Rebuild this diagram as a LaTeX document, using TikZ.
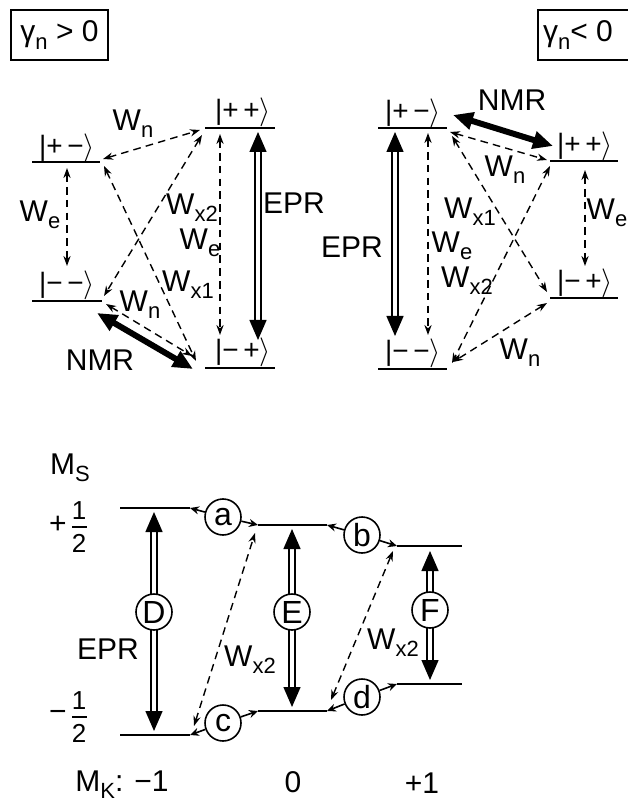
\documentclass[tikz,border=0pt]{standalone}
\usepackage{fontspec}
\setmainfont{Liberation Sans}
\usetikzlibrary{arrows.meta}
\newcommand\ssub[1]{\raisebox{-0.45ex}{\fontsize{11}{11}\selectfont #1}}
\newcommand\myket[1]{|#1$\rangle$}
\begin{document}
\begin{tikzpicture}[x=0.5pt,y=-0.5pt,
  font=\fontsize{15}{18}\selectfont,
  lev/.style={line width=1pt},
  dasharr/.style={line width=0.7pt, dash pattern=on 3.8pt off 2.6pt,
    {Stealth[length=5pt,width=3.6pt]}-{Stealth[length=5pt,width=3.6pt]}},
  nmrarr/.style={line width=3pt,
    {Triangle[length=10pt,width=8.5pt]}-{Triangle[length=10pt,width=8.5pt]}},
  eprarr/.style={line width=0.7pt, double distance=2.4pt,
    {Triangle[length=10pt,width=8.5pt]}-{Triangle[length=10pt,width=8.5pt]}},
  smallarr/.style={line width=0.8pt, -{Stealth[length=4.5pt,width=4pt]}},
  ketlbl/.style={inner sep=0pt, font=\fontsize{14}{16}\selectfont},
  lbl/.style={inner sep=0pt},
  circ/.style={circle, draw, line width=0.8pt, fill=white, minimum size=18pt,
    inner sep=0pt, font=\fontsize{16}{18}\selectfont},
  boxlbl/.style={draw, line width=0.8pt, minimum height=25pt}
]
\useasboundingbox (0,0) rectangle (627,801);

% ---------------- top-left panel (gamma_n > 0)
\node[boxlbl, minimum width=48.5pt] (boxL) at (59.5,35) {$\phantom{0}$};
\node[lbl] (boxLt) at (59.5,35) {γ\ssub{n} > 0};

\coordinate (PPl) at (205,128); \coordinate (PPr) at (275,128);
\coordinate (PMl) at (32,162);  \coordinate (PMr) at (100,162);
\coordinate (MMl) at (32,301);  \coordinate (MMr) at (102,301);
\coordinate (MPl) at (205,368); \coordinate (MPr) at (275,368);
\draw[lev] (PPl) -- (PPr);
\draw[lev] (PMl) -- (PMr);
\draw[lev] (MMl) -- (MMr);
\draw[lev] (MPl) -- (MPr);
\node[ketlbl] (kPP) at (243,112) {\myket{+\,+}};
\node[ketlbl] (kPM) at (67,148) {\myket{+\,−}};
\node[ketlbl] (kMM) at (67,285) {\myket{−\,−}};
\node[ketlbl] (kMP) at (243,352) {\myket{−\,+}};

\coordinate (tlA1) at (103,159); \coordinate (tlA2) at (200,130);
\draw[dasharr] (tlA1) -- (tlA2);
\node[lbl] (tlWn) at (133,124) {W\ssub{n}};

\coordinate (tlB1) at (202,135); \coordinate (tlB2) at (104,296);
\draw[dasharr] (tlB1) -- (tlB2);
\node[lbl] (tlWx2) at (192,208) {W\ssub{x2}};

\coordinate (tlC1) at (104,166); \coordinate (tlC2) at (196,361);
\draw[dasharr] (tlC1) -- (tlC2);
\node[lbl] (tlWx1) at (188,285) {W\ssub{x1}};

\coordinate (tlD1) at (67,168); \coordinate (tlD2) at (67,266);
\draw[dasharr] (tlD1) -- (tlD2);
\node[lbl] (tlWe) at (40,215) {W\ssub{e}};

\coordinate (tlE1) at (220,134); \coordinate (tlE2) at (220,335);
\draw[dasharr] (tlE1) -- (tlE2);
\node[lbl] (tlWe2) at (200,243) {W\ssub{e}};

\coordinate (tlF1) at (258,132); \coordinate (tlF2) at (258,340);
\draw[eprarr] (tlF1) -- (tlF2);
\node[lbl] (tlEPR) at (294,203) {EPR};

\coordinate (tlG1) at (106,304); \coordinate (tlG2) at (192,356);
\draw[dasharr] (tlG1) -- (tlG2);
\node[lbl] (tlWn2) at (140,305) {W\ssub{n}};

\coordinate (tlH1) at (97,313); \coordinate (tlH2) at (193,369);
\draw[nmrarr] (tlH1) -- (tlH2);
\node[lbl] (tlNMR) at (100,360) {NMR};

% ---------------- top-right panel (gamma_n < 0)
\node[boxlbl, minimum width=47pt] (boxR) at (585,35) {$\phantom{0}$};
\node[lbl] (boxRt) at (578,35) {γ\ssub{n}< 0};

\coordinate (rPMl) at (378,128); \coordinate (rPMr) at (447,128);
\coordinate (rPPl) at (550,161); \coordinate (rPPr) at (618,161);
\coordinate (rMPl) at (550,298); \coordinate (rMPr) at (618,298);
\coordinate (rMMl) at (378,369); \coordinate (rMMr) at (447,369);
\draw[lev] (rPMl) -- (rPMr);
\draw[lev] (rPPl) -- (rPPr);
\draw[lev] (rMPl) -- (rMPr);
\draw[lev] (rMMl) -- (rMMr);
\node[ketlbl] (rkPM) at (413,113) {\myket{+\,−}};
\node[ketlbl] (rkPP) at (585,146) {\myket{+\,+}};
\node[ketlbl] (rkMP) at (585,283) {\myket{−\,+}};
\node[ketlbl] (rkMM) at (413,353) {\myket{−\,−}};

\coordinate (trA1) at (453,115); \coordinate (trA2) at (553,146);
\draw[nmrarr] (trA1) -- (trA2);
\node[lbl] (trNMR) at (512,100) {NMR};

\coordinate (trB1) at (450,132); \coordinate (trB2) at (547,160);
\draw[dasharr] (trB1) -- (trB2);
\node[lbl] (trWn) at (505,170) {W\ssub{n}};

\coordinate (trC1) at (585,170); \coordinate (trC2) at (585,266);
\draw[dasharr] (trC1) -- (trC2);
\node[lbl] (trWe) at (607,213) {W\ssub{e}};

\coordinate (trD1) at (395,132); \coordinate (trD2) at (395,336);
\draw[eprarr] (trD1) -- (trD2);
\node[lbl] (trEPR) at (352,247) {EPR};

\coordinate (trE1) at (428,133); \coordinate (trE2) at (428,335);
\draw[dasharr] (trE1) -- (trE2);
\node[lbl] (trWe2) at (452,246) {W\ssub{e}};

\coordinate (trF1) at (452,136); \coordinate (trF2) at (547,292);
\draw[dasharr] (trF1) -- (trF2);
\node[lbl] (trWx1) at (470,212) {W\ssub{x1}};

\coordinate (trG1) at (550,166); \coordinate (trG2) at (452,363);
\draw[dasharr] (trG1) -- (trG2);
\node[lbl] (trWx2) at (467,281) {W\ssub{x2}};

\coordinate (trH1) at (547,303); \coordinate (trH2) at (453,362);
\draw[dasharr] (trH1) -- (trH2);
\node[lbl] (trWn2) at (520,353) {W\ssub{n}};

% ---------------- bottom panel
\node[lbl] (MS) at (70,468) {M\ssub{S}};
\node[lbl] (plus) at (58,525) {+};
\node[lbl, font=\fontsize{13}{14}\selectfont] (oneU) at (79,511) {1};
\node[lbl, font=\fontsize{13}{14}\selectfont] (twoU) at (79,543) {2};
\coordinate (barU1) at (72,527); \coordinate (barU2) at (87,527);
\draw[line width=0.8pt] (barU1) -- (barU2);
\node[lbl] (minus) at (58,716) {−};
\node[lbl, font=\fontsize{13}{14}\selectfont] (oneD) at (79,701) {1};
\node[lbl, font=\fontsize{13}{14}\selectfont] (twoD) at (79,733) {2};
\coordinate (barD1) at (72,717); \coordinate (barD2) at (87,717);
\draw[line width=0.8pt] (barD1) -- (barD2);

\coordinate (L1ul) at (120,508); \coordinate (L1ur) at (190,508);
\coordinate (L1dl) at (120,735); \coordinate (L1dr) at (190,735);
\coordinate (L2ul) at (258,525); \coordinate (L2ur) at (327,525);
\coordinate (L2dl) at (258,711); \coordinate (L2dr) at (327,711);
\coordinate (L3ul) at (397,546); \coordinate (L3ur) at (462,546);
\coordinate (L3dl) at (397,684); \coordinate (L3dr) at (462,684);
\draw[lev] (L1ul) -- (L1ur);
\draw[lev] (L1dl) -- (L1dr);
\draw[lev] (L2ul) -- (L2ur);
\draw[lev] (L2dl) -- (L2dr);
\draw[lev] (L3ul) -- (L3ur);
\draw[lev] (L3dl) -- (L3dr);

% EPR arrows with circles
\coordinate (D1) at (154,512); \coordinate (D2) at (154,731);
\coordinate (E1) at (292,529); \coordinate (E2) at (292,707);
\coordinate (F1) at (430,551); \coordinate (F2) at (430,680);
\draw[eprarr] (D1) -- (D2);
\draw[eprarr] (E1) -- (E2);
\draw[eprarr] (F1) -- (F2);
\node[circ] (cD) at (154,612) {D};
\node[circ] (cE) at (292,612) {E};
\node[circ] (cF) at (430,610) {F};
\node[lbl] (bEPR) at (108,649) {EPR};

% small circles
\node[circ] (ca) at (223,517) {a};
\node[circ] (cb) at (362,535) {b};
\node[circ] (cc) at (223,723) {c};
\node[circ] (cd) at (362,697) {d};
\draw[smallarr] (ca) -- (L1ur);
\draw[smallarr] (ca) -- (L2ul);
\draw[smallarr] (cb) -- (L2ur);
\draw[smallarr] (cb) -- (L3ul);
\draw[smallarr] (cc) -- (L1dr);
\draw[smallarr] (cc) -- (L2dl);
\draw[smallarr] (cd) -- (L2dr);
\draw[smallarr] (cd) -- (L3dl);

% W_x2 dashed
\coordinate (X1a) at (194,726); \coordinate (X1b) at (255,533);
\draw[dasharr] (X1a) -- (X1b);
\node[lbl] (bWx2a) at (250,660) {W\ssub{x2}};
\coordinate (X2a) at (331,700); \coordinate (X2b) at (393,551);
\draw[dasharr] (X2a) -- (X2b);
\node[lbl] (bWx2b) at (393,643) {W\ssub{x2}};

\node[lbl] (MK) at (122,785) {M\ssub{K}: −1};
\node[lbl] (MK0) at (293,782) {0};
\node[lbl] (MK1) at (422,783) {+1};
\end{tikzpicture}
\end{document}
